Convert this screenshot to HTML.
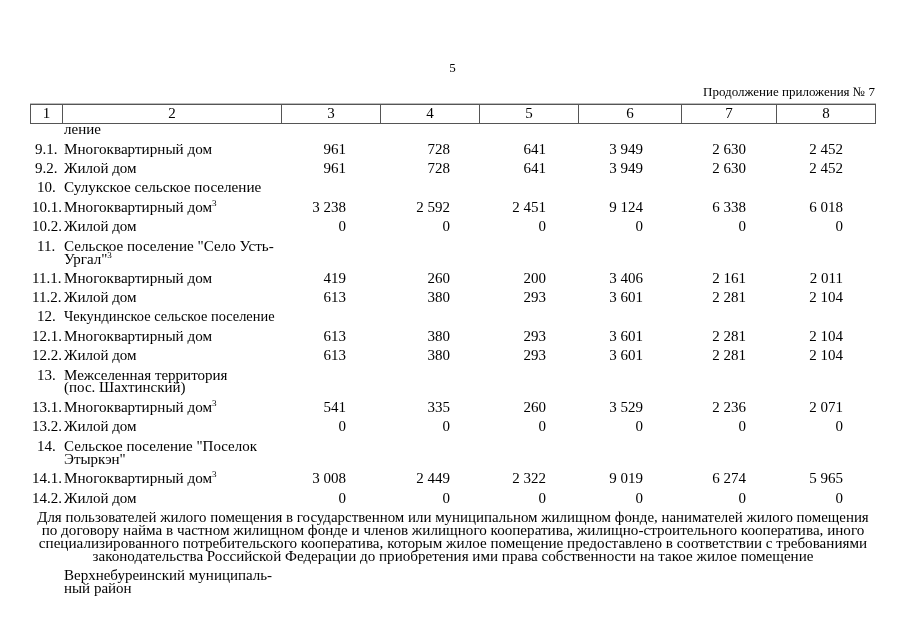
<!DOCTYPE html>
<html><head><meta charset="utf-8"><style>
html,body{margin:0;padding:0;background:#fff;width:905px;height:640px;overflow:hidden}
body{position:relative}
#wrap{left:0;top:0;width:905px;height:640px;will-change:transform}
div{position:absolute;font-family:"Liberation Serif",serif;white-space:pre;color:#000}
.s{font-size:15px;line-height:15px}
.n{font-size:13px;line-height:13px}
sup{font-size:9px;line-height:0;vertical-align:6px}
.ln{background:#555}
</style></head><body><div id="wrap">
<div class="ln" style="left:30px;top:103px;width:846px;height:1px;background:#bbb"></div>
<div class="ln" style="left:30px;top:104px;width:846px;height:1px"></div>
<div class="ln" style="left:30px;top:123px;width:846px;height:1px"></div>
<div class="ln" style="left:30px;top:104px;width:1px;height:20px"></div>
<div class="ln" style="left:62px;top:104px;width:1px;height:20px"></div>
<div class="ln" style="left:281px;top:104px;width:1px;height:20px"></div>
<div class="ln" style="left:380px;top:104px;width:1px;height:20px"></div>
<div class="ln" style="left:479px;top:104px;width:1px;height:20px"></div>
<div class="ln" style="left:578px;top:104px;width:1px;height:20px"></div>
<div class="ln" style="left:681px;top:104px;width:1px;height:20px"></div>
<div class="ln" style="left:776px;top:104px;width:1px;height:20px"></div>
<div class="ln" style="left:875px;top:104px;width:1px;height:20px"></div>
<div class="n" style="top:61px;left:-47.5px;width:1000px;text-align:center;">5</div>
<div class="n" style="top:85px;right:30px;">Продолжение приложения № 7</div>
<div class="s" style="top:106px;left:-453.5px;width:1000px;text-align:center;">1</div>
<div class="s" style="top:106px;left:-328px;width:1000px;text-align:center;">2</div>
<div class="s" style="top:106px;left:-169px;width:1000px;text-align:center;">3</div>
<div class="s" style="top:106px;left:-70px;width:1000px;text-align:center;">4</div>
<div class="s" style="top:106px;left:29px;width:1000px;text-align:center;">5</div>
<div class="s" style="top:106px;left:130px;width:1000px;text-align:center;">6</div>
<div class="s" style="top:106px;left:229px;width:1000px;text-align:center;">7</div>
<div class="s" style="top:106px;left:326px;width:1000px;text-align:center;">8</div>
<div class="s" style="top:122px;left:64px;">ление</div>
<div class="s" style="top:142px;left:35px;">9.1.</div>
<div class="s" style="top:142px;left:64px;transform:scaleX(1.01);transform-origin:0 0;">Многоквартирный дом</div>
<div class="s" style="top:142px;right:559px;">961</div>
<div class="s" style="top:142px;right:455px;">728</div>
<div class="s" style="top:142px;right:359px;">641</div>
<div class="s" style="top:142px;right:262px;">3 949</div>
<div class="s" style="top:142px;right:159px;">2 630</div>
<div class="s" style="top:142px;right:62px;">2 452</div>
<div class="s" style="top:161px;left:35px;">9.2.</div>
<div class="s" style="top:161px;left:64px;">Жилой дом</div>
<div class="s" style="top:161px;right:559px;">961</div>
<div class="s" style="top:161px;right:455px;">728</div>
<div class="s" style="top:161px;right:359px;">641</div>
<div class="s" style="top:161px;right:262px;">3 949</div>
<div class="s" style="top:161px;right:159px;">2 630</div>
<div class="s" style="top:161px;right:62px;">2 452</div>
<div class="s" style="top:180px;left:37px;">10.</div>
<div class="s" style="top:180px;left:64px;transform:scaleX(1.012);transform-origin:0 0;">Сулукское сельское поселение</div>
<div class="s" style="top:200px;left:32px;">10.1.</div>
<div class="s" style="top:200px;left:64px;transform:scaleX(1.01);transform-origin:0 0;">Многоквартирный дом<sup>3</sup></div>
<div class="s" style="top:200px;right:559px;">3 238</div>
<div class="s" style="top:200px;right:455px;">2 592</div>
<div class="s" style="top:200px;right:359px;">2 451</div>
<div class="s" style="top:200px;right:262px;">9 124</div>
<div class="s" style="top:200px;right:159px;">6 338</div>
<div class="s" style="top:200px;right:62px;">6 018</div>
<div class="s" style="top:219px;left:32px;">10.2.</div>
<div class="s" style="top:219px;left:64px;">Жилой дом</div>
<div class="s" style="top:219px;right:559px;">0</div>
<div class="s" style="top:219px;right:455px;">0</div>
<div class="s" style="top:219px;right:359px;">0</div>
<div class="s" style="top:219px;right:262px;">0</div>
<div class="s" style="top:219px;right:159px;">0</div>
<div class="s" style="top:219px;right:62px;">0</div>
<div class="s" style="top:239px;left:37px;">11.</div>
<div class="s" style="top:239px;left:64px;transform:scaleX(1.008);transform-origin:0 0;">Сельское поселение "Село Усть-</div>
<div class="s" style="top:252px;left:64px;">Ургал"<sup>3</sup></div>
<div class="s" style="top:271px;left:32px;">11.1.</div>
<div class="s" style="top:271px;left:64px;transform:scaleX(1.01);transform-origin:0 0;">Многоквартирный дом</div>
<div class="s" style="top:271px;right:559px;">419</div>
<div class="s" style="top:271px;right:455px;">260</div>
<div class="s" style="top:271px;right:359px;">200</div>
<div class="s" style="top:271px;right:262px;">3 406</div>
<div class="s" style="top:271px;right:159px;">2 161</div>
<div class="s" style="top:271px;right:62px;">2 011</div>
<div class="s" style="top:290px;left:32px;">11.2.</div>
<div class="s" style="top:290px;left:64px;">Жилой дом</div>
<div class="s" style="top:290px;right:559px;">613</div>
<div class="s" style="top:290px;right:455px;">380</div>
<div class="s" style="top:290px;right:359px;">293</div>
<div class="s" style="top:290px;right:262px;">3 601</div>
<div class="s" style="top:290px;right:159px;">2 281</div>
<div class="s" style="top:290px;right:62px;">2 104</div>
<div class="s" style="top:309px;left:37px;">12.</div>
<div class="s" style="top:309px;left:64px;transform:scaleX(0.96);transform-origin:0 0;">Чекундинское сельское поселение</div>
<div class="s" style="top:329px;left:32px;">12.1.</div>
<div class="s" style="top:329px;left:64px;transform:scaleX(1.01);transform-origin:0 0;">Многоквартирный дом</div>
<div class="s" style="top:329px;right:559px;">613</div>
<div class="s" style="top:329px;right:455px;">380</div>
<div class="s" style="top:329px;right:359px;">293</div>
<div class="s" style="top:329px;right:262px;">3 601</div>
<div class="s" style="top:329px;right:159px;">2 281</div>
<div class="s" style="top:329px;right:62px;">2 104</div>
<div class="s" style="top:348px;left:32px;">12.2.</div>
<div class="s" style="top:348px;left:64px;">Жилой дом</div>
<div class="s" style="top:348px;right:559px;">613</div>
<div class="s" style="top:348px;right:455px;">380</div>
<div class="s" style="top:348px;right:359px;">293</div>
<div class="s" style="top:348px;right:262px;">3 601</div>
<div class="s" style="top:348px;right:159px;">2 281</div>
<div class="s" style="top:348px;right:62px;">2 104</div>
<div class="s" style="top:368px;left:37px;">13.</div>
<div class="s" style="top:368px;left:64px;">Межселенная территория</div>
<div class="s" style="top:380px;left:64px;">(пос. Шахтинский)</div>
<div class="s" style="top:400px;left:32px;">13.1.</div>
<div class="s" style="top:400px;left:64px;transform:scaleX(1.01);transform-origin:0 0;">Многоквартирный дом<sup>3</sup></div>
<div class="s" style="top:400px;right:559px;">541</div>
<div class="s" style="top:400px;right:455px;">335</div>
<div class="s" style="top:400px;right:359px;">260</div>
<div class="s" style="top:400px;right:262px;">3 529</div>
<div class="s" style="top:400px;right:159px;">2 236</div>
<div class="s" style="top:400px;right:62px;">2 071</div>
<div class="s" style="top:419px;left:32px;">13.2.</div>
<div class="s" style="top:419px;left:64px;">Жилой дом</div>
<div class="s" style="top:419px;right:559px;">0</div>
<div class="s" style="top:419px;right:455px;">0</div>
<div class="s" style="top:419px;right:359px;">0</div>
<div class="s" style="top:419px;right:262px;">0</div>
<div class="s" style="top:419px;right:159px;">0</div>
<div class="s" style="top:419px;right:62px;">0</div>
<div class="s" style="top:439px;left:37px;">14.</div>
<div class="s" style="top:439px;left:64px;">Сельское поселение "Поселок</div>
<div class="s" style="top:452px;left:64px;">Этыркэн"</div>
<div class="s" style="top:471px;left:32px;">14.1.</div>
<div class="s" style="top:471px;left:64px;transform:scaleX(1.01);transform-origin:0 0;">Многоквартирный дом<sup>3</sup></div>
<div class="s" style="top:471px;right:559px;">3 008</div>
<div class="s" style="top:471px;right:455px;">2 449</div>
<div class="s" style="top:471px;right:359px;">2 322</div>
<div class="s" style="top:471px;right:262px;">9 019</div>
<div class="s" style="top:471px;right:159px;">6 274</div>
<div class="s" style="top:471px;right:62px;">5 965</div>
<div class="s" style="top:491px;left:32px;">14.2.</div>
<div class="s" style="top:491px;left:64px;">Жилой дом</div>
<div class="s" style="top:491px;right:559px;">0</div>
<div class="s" style="top:491px;right:455px;">0</div>
<div class="s" style="top:491px;right:359px;">0</div>
<div class="s" style="top:491px;right:262px;">0</div>
<div class="s" style="top:491px;right:159px;">0</div>
<div class="s" style="top:491px;right:62px;">0</div>
<div class="s" style="top:510px;left:-47.2px;width:1000px;text-align:center;transform:scaleX(0.994);transform-origin:50% 0;">Для пользователей жилого помещения в государственном или муниципальном жилищном фонде, нанимателей жилого помещения</div>
<div class="s" style="top:523px;left:-47.1px;width:1000px;text-align:center;transform:scaleX(1.0087);transform-origin:50% 0;">по договору найма в частном жилищном фонде и членов жилищного кооператива, жилищно-строительного кооператива, иного</div>
<div class="s" style="top:536px;left:-47.4px;width:1000px;text-align:center;transform:scaleX(1.008);transform-origin:50% 0;">специализированного потребительского кооператива, которым жилое помещение предоставлено в соответствии с требованиями</div>
<div class="s" style="top:549px;left:-47.5px;width:1000px;text-align:center;transform:scaleX(1.006);transform-origin:50% 0;">законодательства Российской Федерации до приобретения ими права собственности на такое жилое помещение</div>
<div class="s" style="top:568px;left:64px;">Верхнебуреинский муниципаль-</div>
<div class="s" style="top:581px;left:64px;">ный район</div>
</div></body></html>
